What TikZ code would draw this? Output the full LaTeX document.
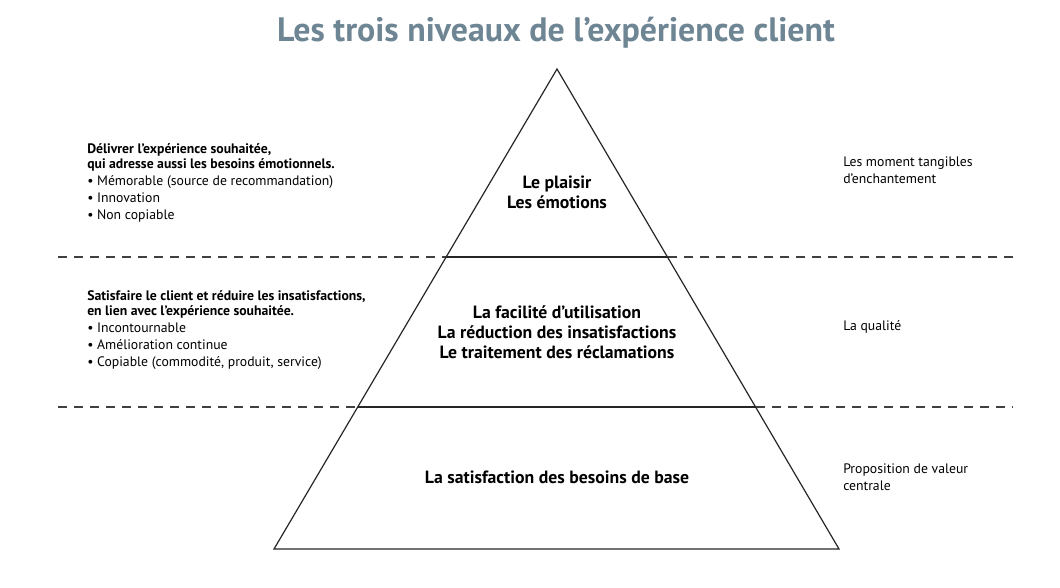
\documentclass[tikz,border=0pt]{standalone}
\usepackage{fontspec}
\setmainfont{PT Sans}
\definecolor{titlegray}{RGB}{110,133,148}
\begin{document}
\begin{tikzpicture}[x=0.75pt,y=-0.75pt,
  edge/.style={draw=black!85,line width=0.9pt,line join=miter},
  sep/.style={draw=black!75,line width=0.9pt,dash pattern=on 6.5pt off 5.5pt},
  center/.style={font=\fontsize{13.3}{15}\selectfont\bfseries,align=center,inner sep=0pt},
  side/.style={font=\fontsize{10.3}{12.8}\selectfont,align=left,anchor=north west,inner sep=0pt},
  right/.style={font=\fontsize{10.3}{12.8}\selectfont,align=left,anchor=west,inner sep=0pt}]
\useasboundingbox (0,0) rectangle (1060,588);
% pyramid corners
\coordinate (apex) at (557,69);
\coordinate (bl) at (274,549);
\coordinate (br) at (839,549);
\coordinate (l1) at (446,257);
\coordinate (r1) at (668,257);
\coordinate (l2) at (358,407);
\coordinate (r2) at (756,407);
\coordinate (d1a) at (58,257);
\coordinate (d1b) at (1013,257);
\coordinate (d2a) at (58,407);
\coordinate (d2b) at (1013,407);
% dashed separators outside pyramid
\draw[sep] (d1a) -- (l1);
\draw[sep] (r1) -- (d1b);
\draw[sep] (d2a) -- (l2);
\draw[sep] (r2) -- (d2b);
% pyramid
\draw[edge] (apex) -- (bl) -- (br) -- cycle;
\draw[edge] (l1) -- (r1);
\draw[edge] (l2) -- (r2);
% title
\node[font=\fontsize{25.4}{30}\selectfont\bfseries,text=titlegray,inner sep=0pt] (title) at (556,33) {Les trois niveaux de l’expérience client};
% center labels
\node[center] (top) at (557,192) {Le plaisir\\Les émotions};
\node[center] (mid) at (557,332) {La facilité d’utilisation\\La réduction des insatisfactions\\Le traitement des réclamations};
\node[center] (base) at (557,477) {La satisfaction des besoins de base};
% left texts
\node[side] (lt1) at (87,143) {\textbf{Délivrer l’expérience souhaitée,}\\[-1.5pt]\textbf{qui adresse aussi les besoins émotionnels.}\\• Mémorable (source de recommandation)\\• Innovation\\• Non copiable};
\node[side] (lt2) at (87,290) {\textbf{Satisfaire le client et réduire les insatisfactions,}\\[-1.5pt]\textbf{en lien avec l’expérience souhaitée.}\\• Incontournable\\• Amélioration continue\\• Copiable (commodité, produit, service)};
% right texts
\node[right] (rt1) at (843,170.5) {Les moment tangibles\\d’enchantement};
\node[right] (rt2) at (843,327) {La qualité};
\node[right] (rt3) at (843,477.5) {Proposition de valeur\\centrale};
\end{tikzpicture}
\end{document}
